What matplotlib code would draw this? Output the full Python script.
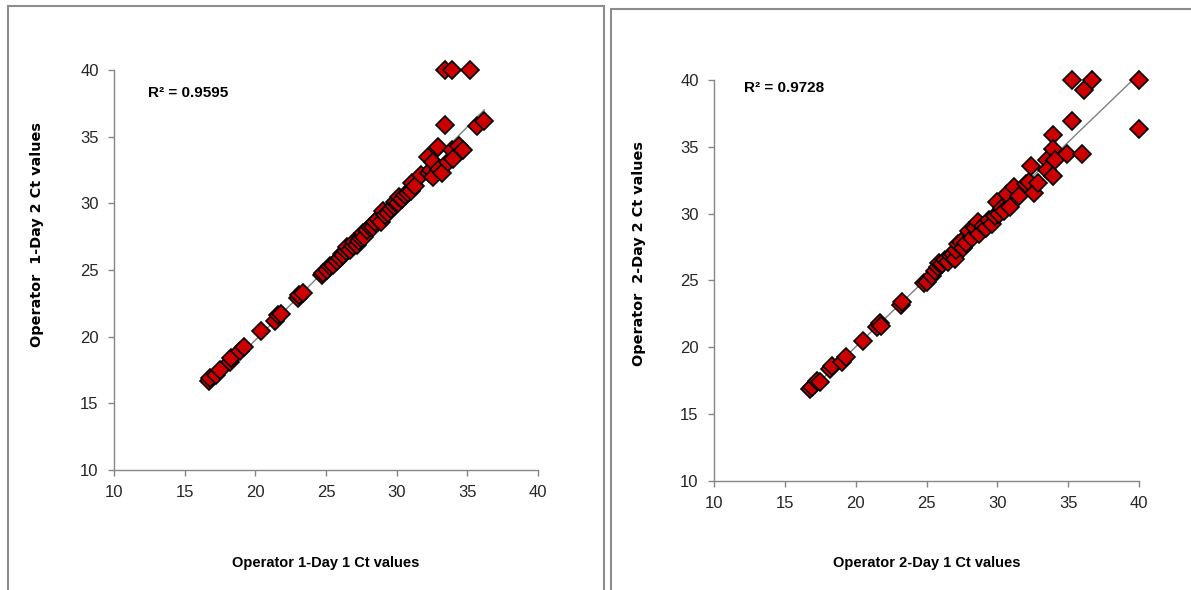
import numpy as np
import matplotlib
matplotlib.use('Agg')
import matplotlib.pyplot as plt
from matplotlib.patches import Rectangle

# Operator 1, day 1 vs day 2 Ct values
op1_day1 = [16.7, 16.8, 17.2, 17.5, 18.2, 18.3, 18.9, 19.2, 20.4, 21.4, 21.6, 21.8,
            23.0, 23.1, 23.4, 24.7, 24.8, 25.1, 25.3, 25.5, 25.8, 26.0, 26.1, 26.2,
            26.4, 26.5, 26.7, 26.9, 27.0, 27.2, 27.3, 27.5, 27.6, 27.7, 27.9, 28.1,
            28.3, 28.5, 28.7, 28.9, 29.0, 29.2, 29.4, 29.6, 29.8, 29.9, 30.1, 30.2,
            30.4, 30.6, 30.8, 31.0, 31.1, 31.3, 31.7, 32.2, 32.3, 32.4, 32.6, 32.6,
            32.9, 33.0, 33.2, 33.4, 33.6, 33.9, 34.0, 34.4, 34.7, 35.7, 36.2,
            33.4, 33.9, 35.2]
op1_day2 = [16.7, 16.9, 17.1, 17.5, 18.1, 18.4, 18.9, 19.2, 20.4, 21.2, 21.6, 21.7,
            22.9, 23.1, 23.3, 24.6, 24.8, 25.0, 25.3, 25.4, 25.7, 25.9, 26.2, 26.1,
            26.4, 26.7, 26.5, 26.8, 27.1, 26.9, 27.2, 27.4, 27.8, 27.5, 28.0, 28.2,
            28.2, 28.6, 28.8, 28.6, 29.4, 29.1, 29.3, 29.6, 29.8, 30.1, 30.0, 30.5,
            30.3, 30.6, 30.8, 30.9, 31.5, 31.3, 32.1, 33.5, 32.3, 32.5, 33.1, 32.0,
            34.2, 32.6, 32.3, 35.9, 33.1, 34.0, 33.3, 34.3, 34.0, 35.8, 36.2,
            40.0, 40.0, 40.0]

# Operator 2, day 1 vs day 2 Ct values
op2_day1 = [16.8, 16.9, 17.3, 17.5, 18.2, 18.3, 19.0, 19.3, 20.5, 21.5, 21.7, 21.8,
            23.2, 23.3, 24.8, 25.0, 25.4, 25.6, 25.8, 25.9, 26.1, 26.3, 26.5, 26.7,
            26.9, 27.0, 27.1, 27.2, 27.4, 27.6, 27.8, 28.0, 28.2, 28.4, 28.6, 28.7,
            29.0, 29.2, 29.4, 29.6, 29.8, 29.95, 30.1, 30.3, 30.5, 30.7, 30.9, 31.2,
            31.5, 32.0, 32.2, 32.4, 32.6, 32.9, 33.5, 33.5, 33.9, 33.9, 33.9, 34.1,
            34.9, 35.3, 35.3, 36.0, 36.1, 36.7, 40.0, 40.0]
op2_day2 = [16.9, 17.0, 17.5, 17.4, 18.4, 18.6, 18.9, 19.3, 20.5, 21.5, 21.8, 21.6,
            23.2, 23.4, 24.8, 24.9, 25.3, 25.7, 26.0, 26.3, 26.2, 26.5, 26.4, 26.8,
            27.0, 26.6, 27.3, 27.7, 27.9, 27.4, 27.8, 28.7, 28.2, 28.9, 29.4, 28.5,
            29.1, 28.9, 29.5, 29.2, 29.8, 30.9, 30.0, 30.4, 30.2, 31.5, 30.5, 32.0,
            31.3, 32.2, 32.4, 33.6, 31.55, 32.3, 34.0, 33.3, 35.9, 34.85, 32.8, 34.0,
            34.5, 40.0, 36.9, 34.5, 39.25, 40.0, 40.0, 36.3]

W, H = 1191, 590

# data, labels, axes box in pixels (left, top, right, bottom), label positions in pixels
panels = [
    dict(x=op1_day1, y=op1_day2, xlab='Operator 1-Day 1 Ct values',
         ylab='Operator  1-Day 2 Ct values', r2='R² = 0.9595',
         box=(114, 70, 538, 470), r2pos=(12.4, 38.3), xlabpos=(326, 563), ylabpos=(37, 235)),
    dict(x=op2_day1, y=op2_day2, xlab='Operator 2-Day 1 Ct values',
         ylab='Operator  2-Day 2 Ct values', r2='R² = 0.9728',
         box=(714, 80, 1139, 481), r2pos=(12.1, 39.4), xlabpos=(927, 563), ylabpos=(639, 254)),
]

sans = ['Liberation Sans', 'DejaVu Sans']
grey = '#868686'

fig = plt.figure(figsize=(W/100, H/100), dpi=100)

# outer chart frames
fig.patches.append(Rectangle((8/W, -0.05), 596/W, 1.05-6/H, transform=fig.transFigure,
                             fill=False, edgecolor='#8c8c8c', lw=1.5))
fig.patches.append(Rectangle((611/W, -0.05), 600/W, 1.05-9/H, transform=fig.transFigure,
                             fill=False, edgecolor='#8c8c8c', lw=1.5))

for p in panels:
    l, t, r, b = p['box']
    ax = fig.add_axes([l/W, 1-b/H, (r-l)/W, (b-t)/H])
    xs = np.array(p['x'])
    ys = np.array(p['y'])
    # linear trendline over the data range
    k, c = np.polyfit(xs, ys, 1)
    xl = np.array([xs.min(), xs.max()])
    ax.plot(xl, k*xl + c, color='#808080', lw=1, zorder=1)
    ax.plot(xs, ys, linestyle='none', marker='D', markersize=9, markerfacecolor='#CC0000',
            markeredgecolor='black', markeredgewidth=1.2, zorder=2, clip_on=False)
    ax.set_xlim(10, 40)
    ax.set_ylim(10, 40)
    ax.set_xticks(range(10, 41, 5))
    ax.set_yticks(range(10, 41, 5))
    for s in ['top', 'right']:
        ax.spines[s].set_visible(False)
    for s in ['left', 'bottom']:
        ax.spines[s].set_color(grey)
        ax.spines[s].set_linewidth(1)
    ax.tick_params(direction='out', length=4, width=1, color=grey, labelsize=12, pad=7)
    for tl in ax.get_xticklabels() + ax.get_yticklabels():
        tl.set_family(sans)
        tl.set_color('#262626')
    ax.text(p['r2pos'][0], p['r2pos'][1], p['r2'], family=sans, fontsize=11,
            fontweight='bold', va='center', ha='left')
    fig.text(p['xlabpos'][0]/W, 1-p['xlabpos'][1]/H, p['xlab'], family=sans, fontsize=10.5,
             fontweight='bold', ha='center', va='center')
    fig.text(p['ylabpos'][0]/W, 1-p['ylabpos'][1]/H, p['ylab'], family='DejaVu Sans',
             fontsize=10.4, fontweight='bold', ha='center', va='center', rotation=90)

fig.savefig('out.png', dpi=100)
